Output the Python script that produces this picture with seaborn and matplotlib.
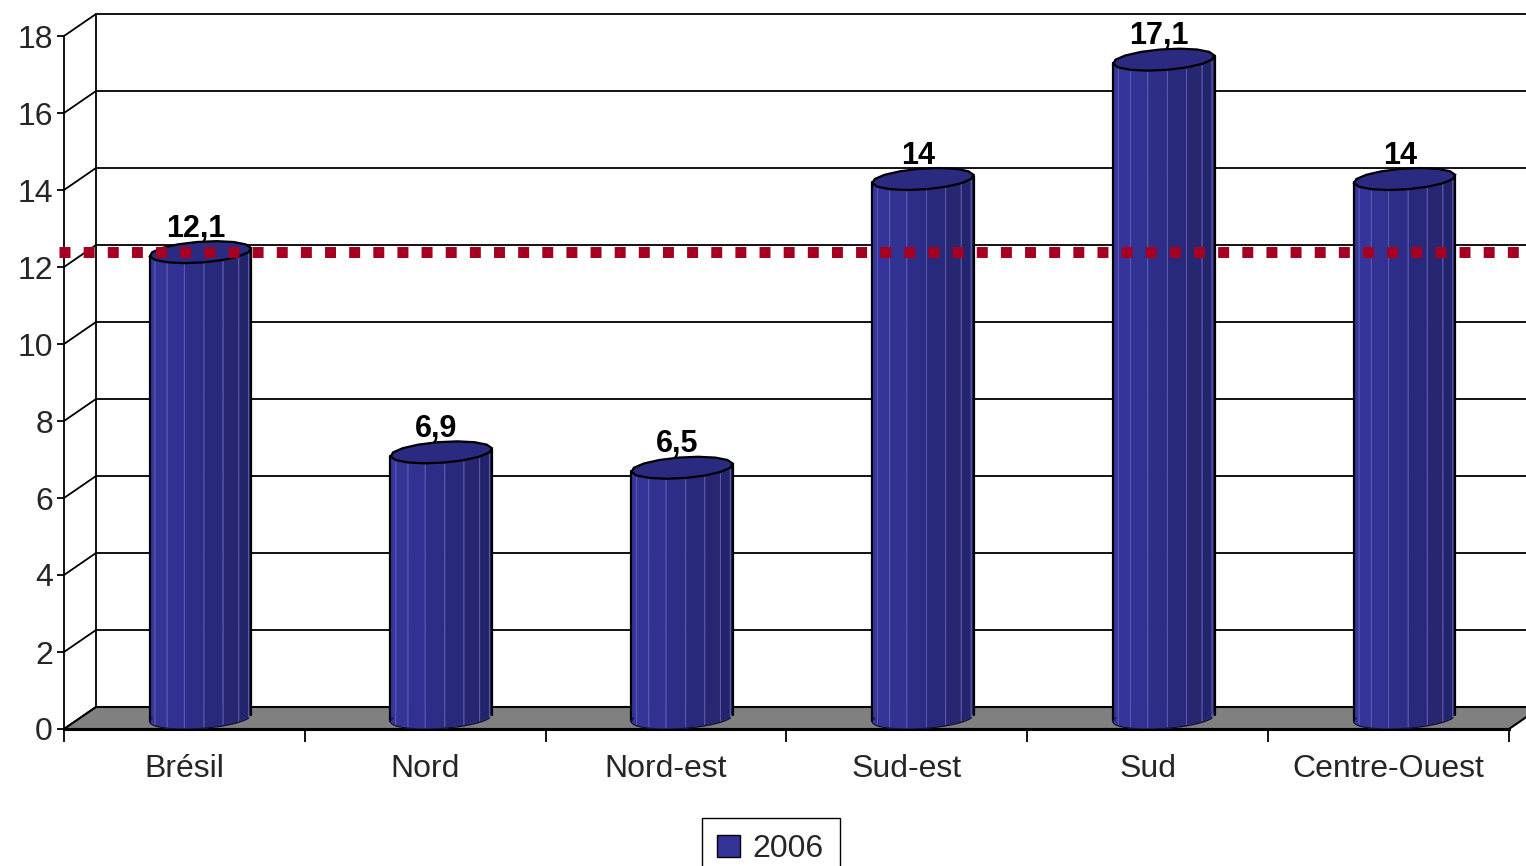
import numpy as np
import pandas as pd
import matplotlib
matplotlib.use("Agg")
import matplotlib.pyplot as plt
import seaborn as sns
from matplotlib.patches import Patch

regions = ["Brésil", "Nord", "Nord-est", "Sud-est", "Sud", "Centre-Ouest"]
values = [12.1, 6.9, 6.5, 14.0, 17.1, 14.0]
value_labels = ["12,1", "6,9", "6,5", "14", "17,1", "14"]
series_name = "2006"
ref_value = 12.1
y_ticks = [0, 2, 4, 6, 8, 10, 12, 14, 16, 18]

df = pd.DataFrame({"region": regions, "value": values})

sns.set_style("white")
plt.rcParams["font.family"] = ["Liberation Sans", "DejaVu Sans"]

W, H, DPI = 1526, 866, 100
fig = plt.figure(figsize=(W / DPI, H / DPI), dpi=DPI)
ax = fig.add_axes([64 / W, (H - 729) / H, (1509 - 64) / W, (729 - 36) / H])
ax.set_xlim(-0.5, 5.5)
ax.set_ylim(0, 18)

# 3D depth offset (32 px right, 22 px up) in data units
px_x = (1509 - 64) / 6.0
px_y = (729 - 36) / 18.0
dxu = 32 / px_x
dyu = 22 / px_y

# cylinder bodies: seaborn bars first, then reshaped with 3D facets
sns.barplot(data=df, x="region", y="value", color="#333399", width=0.4,
            saturation=1, ax=ax, zorder=3, errorbar=None)
bars = list(ax.patches)

# back wall + side wall + floor
xb0 = -0.5 + dxu
for v in y_ticks:
    ax.plot([xb0, 6.2], [v + dyu, v + dyu], color="black", lw=1.3, zorder=1, clip_on=False)
    ax.plot([-0.5, xb0], [v, v + dyu], color="black", lw=1.3, zorder=1, clip_on=False)
ax.plot([xb0, xb0], [dyu, 18 + dyu], color="black", lw=1.3, zorder=1, clip_on=False)
ax.fill([-0.5, 5.5, 5.5 + dxu, 6.2, 6.2, xb0], [0, 0, dyu, dyu, dyu, dyu],
        facecolor="#808080", edgecolor="black", lw=1.5, zorder=2, clip_on=False)

r = 0.2
n_fac = 16
left_col = np.array([0.21, 0.21, 0.62])
right_col = np.array([0.14, 0.14, 0.42])


def ring(cx, v, th):
    # point on circle: x radius r, depth sin(th) in [-1,1], back = +1
    x = cx + dxu / 2 + r * np.cos(th) + np.sin(th) * dxu / 2
    y = v + dyu / 2 + np.sin(th) * dyu / 2
    return x, y


for i, (bar, v) in enumerate(zip(bars, values)):
    bar.set_visible(False)
    th = np.linspace(0, 2 * np.pi, n_fac + 1)
    xs_t, ys_t = ring(i, v, th)
    for k in range(n_fac):
        a0, a1 = th[k], th[k + 1]
        am = (a0 + a1) / 2
        if np.sin(am) > 0.25:
            continue
        x0b, y0b = ring(i, 0, a0)
        x1b, y1b = ring(i, 0, a1)
        x0t, y0t = ring(i, v, a0)
        x1t, y1t = ring(i, v, a1)
        t = 1 - np.clip((np.cos(am + np.pi) + 1) / 2, 0, 1)  # 0 left, 1 right
        col = left_col + (right_col - left_col) * t ** 1.5
        ax.fill([x0b, x1b, x1t, x0t], [y0b, y1b, y1t, y0t], facecolor=col,
                edgecolor="#5a5ab0", lw=0.7, zorder=4)
    xx_t, yy_t = ring(i, v, np.linspace(0, 2 * np.pi, 400))
    jl, jr = np.argmin(xx_t), np.argmax(xx_t)
    ax.plot([xx_t[jl], xx_t[jl]], [yy_t[jl] - v, yy_t[jl]], color="black", lw=1.6, zorder=5)
    ax.plot([xx_t[jr], xx_t[jr]], [yy_t[jr] - v, yy_t[jr]], color="black", lw=1.6, zorder=5)
    thb = np.linspace(np.pi, 2 * np.pi, 60)
    xb, yb = ring(i, 0, thb)
    ax.plot(xb, yb, color="#111133", lw=1.0, zorder=5)
    ax.fill(xs_t, ys_t, facecolor="#2a2a80", edgecolor="black", lw=1.6, zorder=6)
    ax.text(i + dxu / 2 - 0.02, v + dyu - 0.07, value_labels[i], ha="center", va="bottom",
            fontsize=22, fontweight="bold", color="black", zorder=8)

# national reference line (dotted red squares)
ax.plot([-0.52, 6.1], [ref_value + dyu / 2] * 2, color="#a50021", lw=7.9,
        linestyle=(0, (1, 1.2)), solid_capstyle="butt", dash_capstyle="butt",
        zorder=7, clip_on=False)

# front axes
for s in ["top", "right"]:
    ax.spines[s].set_visible(False)
ax.spines["left"].set_color("black")
ax.spines["left"].set_linewidth(1.3)
ax.spines["bottom"].set_color("black")
ax.spines["bottom"].set_linewidth(2.2)
ax.spines["bottom"].set_zorder(3)

ax.set_yticks(y_ticks)
ax.set_yticklabels([str(t) for t in y_ticks])
ax.set_xticks(range(len(regions)))
ax.set_xticklabels(regions)
ax.set_xticks(np.arange(-0.5, 6, 1.0), minor=True)
ax.tick_params(axis="y", length=5, width=1.3, pad=3, labelsize=23, color="black", direction="out", left=True)
ax.tick_params(axis="x", which="major", length=0, pad=18, labelsize=23)
ax.tick_params(axis="x", which="minor", length=9, width=1.3, color="black", direction="out", bottom=True)
ax.set_xlabel("")
ax.set_ylabel("")
ax.grid(False)

fig.legend(handles=[Patch(facecolor="#333399", edgecolor="black", label=series_name)],
           loc="upper center", bbox_to_anchor=(0.505, 1 - 818 / H), fontsize=23,
           frameon=True, fancybox=False, edgecolor="black", framealpha=1,
           handlelength=0.7, handleheight=0.7, handletextpad=0.4, borderpad=0.5,
           borderaxespad=0)

fig.savefig("out.png", dpi=DPI)
